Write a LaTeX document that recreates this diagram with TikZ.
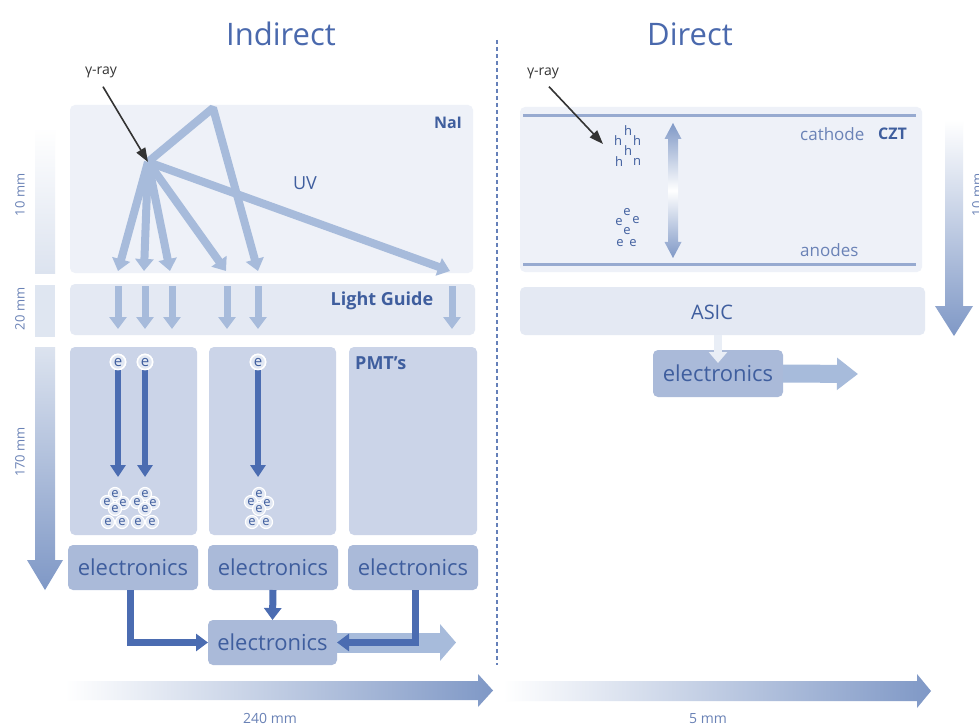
\documentclass[tikz,border=0pt]{standalone}
\usepackage{fontspec}
\setmainfont{Open Sans}
\usetikzlibrary{arrows.meta,calc}
\definecolor{ttl}{HTML}{4A69AD}
\definecolor{boxA}{HTML}{EEF1F8}
\definecolor{boxB}{HTML}{E4E9F3}
\definecolor{boxC}{HTML}{CBD4E8}
\definecolor{boxD}{HTML}{AABAD9}
\definecolor{uvc}{HTML}{A7BBDB}
\definecolor{dark}{HTML}{4B6CB1}
\definecolor{scl}{HTML}{7F98C6}
\definecolor{sclL}{HTML}{DCE3EF}
\definecolor{linec}{HTML}{97AAD0}
\definecolor{txt}{HTML}{3F5E9E}
\definecolor{txtL}{HTML}{6A82B6}
\definecolor{gam}{HTML}{333333}
\definecolor{ebf}{HTML}{E2E8F3}
\definecolor{asicar}{HTML}{E9EEF6}
\newcommand\fsz[1]{\fontsize{#1}{#1}\selectfont}
\newcommand\ecluster[4]{%
  \node[eb] (#1c) at (#2+8,#3-5) {#4};
  \node[eb] (#1a) at (#2,#3-14) {#4};
  \node[eb] (#1b) at (#2-8,#3-6) {#4};
  \node[eb] (#1d) at (#2,#3+1) {#4};
  \node[eb] (#1e) at (#2-7,#3+14) {#4};
  \node[eb] (#1f) at (#2+7,#3+14) {#4};
}
\tikzset{
  panel/.style={rounded corners=5pt, inner sep=0pt, outer sep=0pt},
  elec/.style={panel, fill=boxD, text=txt, font=\fsz{22}},
  blab/.style={text=txt, font=\bfseries\fsz{16}, inner sep=0pt},
  rlab/.style={text=txtL, font=\fsz{17}, inner sep=0pt},
  scal/.style={text=txtL, font=\fsz{13}, inner sep=0pt},
  uv/.style={draw=uvc, line width=8pt, line join=bevel, -{Triangle[width=18pt,length=12pt]}},
  lg/.style={draw=uvc, line width=7pt, -{Triangle[width=17pt,length=12pt]}},
  dk/.style={draw=dark, line width=6pt, -{Triangle[width=15pt,length=12pt]}},
  dkb/.style={draw=dark, line width=7pt, -{Triangle[width=17pt,length=12pt]}},
  gray arrow/.style={draw=gam, line width=1.6pt, -{Triangle[width=10pt,length=14pt]}},
  eone/.style={circle, fill=ebf, draw=white, line width=1.5pt, inner sep=1.2pt, font=\fsz{15}, text=txt},
  eb/.style={circle, fill=ebf, draw=white, line width=1.2pt, inner sep=0.5pt, minimum size=13pt, font=\fsz{13}, text=txt},
  hb/.style={inner sep=0pt, font=\fsz{13}, text=txt},
}
\begin{document}
\begin{tikzpicture}[x=1pt,y=-1pt]
\fill[white] (0,0) rectangle (979,727);
\useasboundingbox (0,0) rectangle (979,727);

% titles
\node[text=ttl, font=\fsz{31}] (tind) at (281,34) {Indirect};
\node[text=ttl, font=\fsz{31}] (tdir) at (690,34) {Direct};
\draw[draw=ttl!85, line width=1.3pt, dash pattern=on 4pt off 3pt] (497,40) -- (497,665);

% ---------- scale bars left ----------
\shade[top color=white, bottom color=sclL] (35,127) rectangle (55,273);
\fill[sclL!90] (35,285) rectangle (55,337);
\shade[top color=sclL, bottom color=scl] (35,347) -- (55,347) -- (55,560) -- (63,560) -- (45,590) -- (27,560) -- (35,560) -- cycle;
\node[scal, rotate=90] (s10) at (20,195) {10 mm};
\node[scal, rotate=90] (s20) at (20,309) {20 mm};
\node[scal, rotate=90] (s170) at (20,452) {170 mm};

% bottom scale arrows
\shade[left color=white, right color=scl] (65,681) -- (478,681) -- (478,674) -- (493,690.5) -- (478,707) -- (478,700) -- (65,700) -- cycle;
\node[scal, font=\fsz{14}] (s240) at (270,718) {240 mm};
\shade[left color=white, right color=scl] (503,681) -- (917,681) -- (917,674) -- (931,691) -- (917,708) -- (917,701) -- (503,701) -- cycle;
\node[scal, font=\fsz{14}] (s5) at (708,719) {5 mm};

% right scale arrow
\shade[top color=white, bottom color=scl] (945,120) -- (963,120) -- (963,306) -- (973,306) -- (954,336) -- (935,306) -- (945,306) -- cycle;
\node[scal, rotate=90] (s10r) at (977,195) {10 mm};

% ---------- Indirect boxes ----------
\node[panel, fill=boxA, minimum width=403pt, minimum height=168pt] (nai) at (271.5,189) {};
\node[panel, fill=boxB, minimum width=405pt, minimum height=51pt] (lgd) at (272.5,309.5) {};
\node[panel, fill=boxC, minimum width=127pt, minimum height=188pt] (pmt1) at (133.5,441) {};
\node[panel, fill=boxC, minimum width=127pt, minimum height=188pt] (pmt2) at (272.5,441) {};
\node[panel, fill=boxC, minimum width=128pt, minimum height=188pt] (pmt3) at (413,441) {};
\node[blab] (nail) at (448,123) {NaI};
\node[blab, font=\bfseries\fsz{18}] (lgl) at (382,301) {Light Guide};
\node[blab, font=\bfseries\fsz{18}, anchor=west] (pmtl) at (355,363) {PMT’s};
\node[text=txt, font=\fsz{18}, inner sep=0pt] (uvl) at (305,183) {UV};

% electronics
\node[elec, minimum width=130pt, minimum height=45pt] (el1) at (133,567.5) {electronics};
\node[elec, minimum width=130pt, minimum height=45pt] (el2) at (273,567.5) {electronics};
\node[elec, minimum width=130pt, minimum height=45pt] (el3) at (413,567.5) {electronics};
\node[elec, minimum width=129pt, minimum height=45pt] (elb) at (272.5,642.5) {electronics};

% gamma ray (left)
\node[text=gam, font=\fsz{14}, inner sep=0pt] (gl) at (101,72) {γ-ray};
\coordinate (src) at (148,162);
\coordinate (apx) at (213,108);
\foreach \i/\x in {1/118,2/144,3/170,4/226,6/450} {
  \coordinate (ue\i) at (\x,271);
  \draw[uv] (src) -- (ue\i);
}
\coordinate (ue5) at (258,271);
\draw[uv] (src) -- (apx) -- (ue5);
\draw[gray arrow] ([xshift=2pt,yshift=-9pt]gl.south) -- (src);

% light guide arrows
\foreach \i/\x in {1/118,2/145,3/172,4/227,5/258,6/452} {
  \coordinate (lt\i) at (\x,286);
  \coordinate (lb\i) at (\x,329);
  \draw[lg] (lt\i) -- (lb\i);
}

% PMT electrons
\foreach \i/\x in {1/118,2/145,3/258} {
  \coordinate (pd\i) at (\x,477);
  \node[eone] (pe\i) at (\x,362) {e};
  \draw[dk] (pe\i.south) -- (pd\i);
  \node[eone] (pe\i) at (\x,362) {e};
}
\ecluster{ca}{115}{508}{e}
\ecluster{cb}{145}{508}{e}
\ecluster{cc}{259}{508}{e}

% electronics connections
\draw[draw=uvc, line width=20pt, -{Triangle[width=36pt,length=16pt]}] (elb.east) -- (456,642.5) coordinate (lout);
\draw[dkb, rounded corners=0pt] ([xshift=-3pt]el1.south) |- (elb.west);
\draw[dkb] (el2.south) -- (elb.north);
\draw[dkb] ([xshift=2pt]el3.south) |- (elb.east);

% ---------- Direct ----------
\node[panel, fill=boxA, minimum width=402pt, minimum height=165pt] (czt) at (721,189.5) {};
\node[panel, fill=boxB, minimum width=405pt, minimum height=48pt] (asic) at (722.5,311) {};
\draw[draw=linec, line width=3pt] (523,116) -- (916,116);
\draw[draw=linec, line width=3pt] (523,264) -- (916,264);
\node[rlab, anchor=west] (cath) at (800,134) {cathode};
\node[blab, font=\bfseries\fsz{16}, anchor=west] (cztl) at (878,134) {CZT};
\node[rlab, anchor=west] (anod) at (800,250) {anodes};
\node[text=txt, font=\fsz{20}, inner sep=0pt] (asicl) at (712,312) {ASIC};

\node[text=gam, font=\fsz{14}, inner sep=0pt] (gr) at (543,73) {γ-ray};
\coordinate (hc) at (603,144);
\draw[gray arrow] ([xshift=6pt,yshift=-8pt]gr.south) -- (hc);

% h and e clusters
\node[hb] (h1) at (628,131) {h};
\node[hb] (h2) at (618,141) {h};
\node[hb] (h3) at (637,141) {h};
\node[hb] (h4) at (628,151) {h};
\node[hb] (h5) at (619,162) {h};
\node[hb] (h6) at (637,162) {n};
\node[hb] (r1) at (627,212) {e};
\node[hb] (r2) at (619,222) {e};
\node[hb] (r3) at (636,220) {e};
\node[hb] (r4) at (627,231) {e};
\node[hb] (r5) at (620,243) {e};
\node[hb] (r6) at (633,243) {e};

% double arrow
\shade[top color=scl, bottom color=scl, middle color=white] (673,123) -- (681.5,139) -- (678,139) -- (678,242) -- (681.5,242) -- (673,258) -- (664.5,242) -- (668,242) -- (668,139) -- (664.5,139) -- cycle;

% electronics right
\node[elec, minimum width=130pt, minimum height=47pt] (elr) at (718,373.5) {electronics};
\draw[draw=asicar, line width=8pt, -{Triangle[width=18pt,length=11pt]}] (asic.south -| elr.north) -- ([yshift=-13pt]elr.north);
\draw[draw=uvc, line width=18pt, -{Triangle[width=31pt,length=21pt]}] (elr.east) -- (858,374) coordinate (rout);
\end{tikzpicture}
\end{document}
